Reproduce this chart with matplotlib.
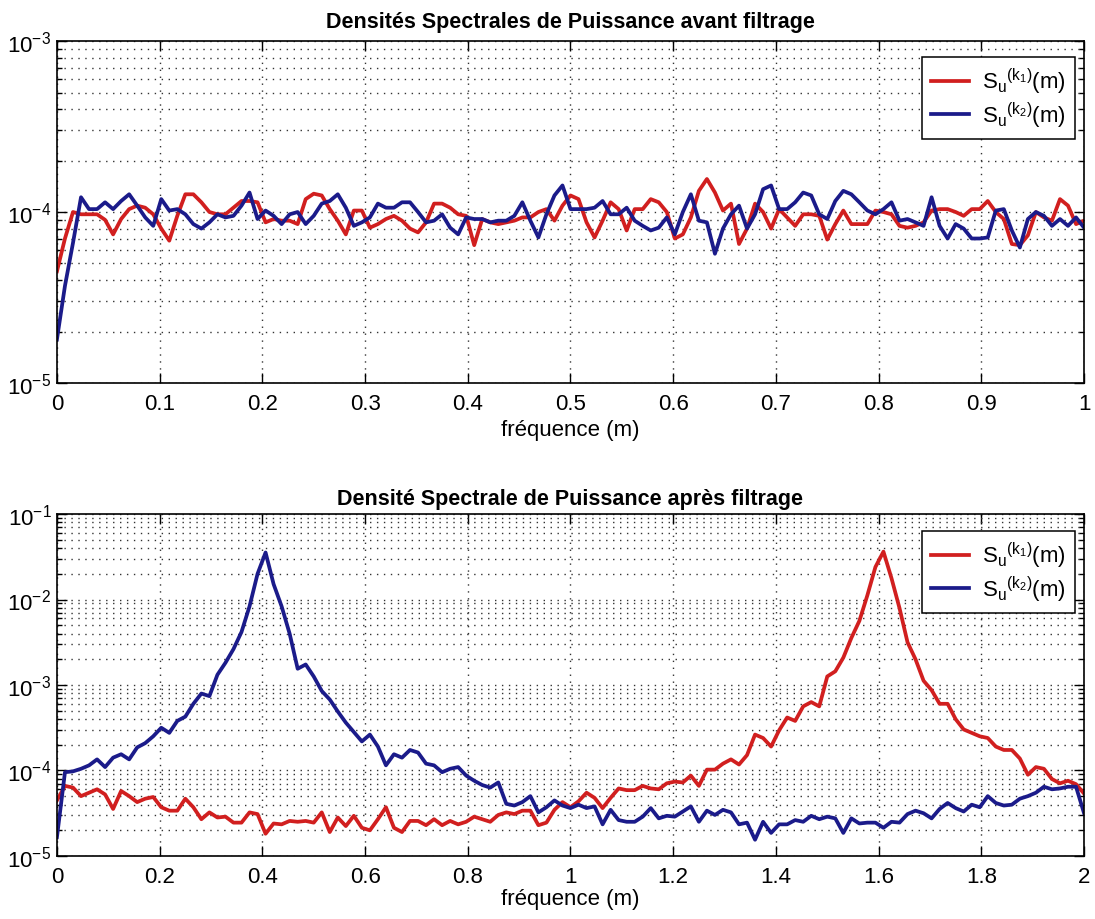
import matplotlib
matplotlib.use("Agg")
import matplotlib.pyplot as plt
import numpy as np
from matplotlib.ticker import LogLocator, FormatStrFormatter, NullFormatter

# Before filtering: PSD values in units of 1e-4, 129 bins on [0, 1]
red_before = [
    0.45, 0.70, 1.00, 0.97, 0.97, 0.97, 0.90, 0.74, 0.91, 1.04, 1.09, 1.06, 0.97,
    0.80, 0.68, 0.95, 1.27, 1.27, 1.14, 1.00, 0.97, 0.97, 1.06, 1.16, 1.16, 1.14,
    0.87, 0.91, 0.89, 0.89, 0.85, 1.19, 1.28, 1.25, 1.04, 0.89, 0.74, 1.02, 1.02,
    0.81, 0.85, 0.91, 0.95, 0.89, 0.80, 0.76, 0.87, 1.12, 1.12, 1.06, 0.97, 0.95,
    0.64, 0.91, 0.87, 0.85, 0.87, 0.89, 0.93, 0.93, 1.00, 1.04, 0.89, 1.09, 1.25,
    1.19, 0.87, 0.71, 0.89, 1.14, 1.04, 0.78, 1.04, 1.04, 1.19, 1.14, 1.00, 0.70,
    0.74, 0.93, 1.33, 1.56, 1.30, 1.02, 1.12, 0.65, 0.80, 1.12, 1.00, 0.80, 1.04,
    0.93, 0.83, 0.97, 0.97, 0.95, 0.69, 0.85, 1.02, 0.85, 0.85, 0.85, 1.02, 1.00,
    0.97, 0.83, 0.81, 0.83, 0.87, 1.02, 1.04, 1.04, 1.00, 0.95, 1.04, 1.04, 1.16,
    1.00, 0.91, 0.65, 0.64, 0.73, 1.00, 0.93, 0.89, 1.19, 1.09, 0.85, 0.89]
blue_before = [
    0.18, 0.37, 0.66, 1.22, 1.04, 1.04, 1.14, 1.04, 1.16, 1.27, 1.09, 0.93, 0.83,
    1.19, 1.02, 1.04, 0.97, 0.85, 0.80, 0.87, 0.97, 0.93, 0.95, 1.09, 1.30, 0.91,
    1.02, 0.95, 0.85, 0.97, 1.00, 0.85, 0.95, 1.12, 1.16, 1.27, 1.06, 0.83, 0.87,
    0.93, 1.12, 1.06, 1.06, 1.14, 1.14, 1.00, 0.87, 0.89, 0.97, 0.81, 0.74, 0.93,
    0.91, 0.91, 0.87, 0.89, 0.89, 0.95, 1.14, 0.89, 0.71, 0.97, 1.25, 1.43, 1.04,
    1.04, 1.04, 1.06, 1.16, 0.97, 0.97, 1.06, 0.89, 0.83, 0.78, 0.81, 0.93, 0.74,
    1.00, 1.27, 0.89, 0.87, 0.57, 0.80, 0.97, 1.09, 0.80, 0.97, 1.36, 1.43, 1.04,
    1.04, 1.14, 1.30, 1.25, 0.97, 0.91, 1.16, 1.33, 1.27, 1.14, 1.02, 0.97, 1.04,
    1.14, 0.89, 0.91, 0.87, 0.83, 1.22, 0.83, 0.70, 0.85, 0.80, 0.70, 0.70, 0.71,
    1.02, 1.04, 0.78, 0.62, 0.91, 1.00, 0.95, 0.83, 0.91, 0.83, 0.93, 0.81]

# After filtering: log10 of the PSD, 129 bins on [0, 2]
red_after_log = [
    -4.35, -4.18, -4.20, -4.30, -4.26, -4.22, -4.28, -4.45, -4.24, -4.30, -4.37,
    -4.33, -4.31, -4.43, -4.47, -4.47, -4.33, -4.43, -4.57, -4.49, -4.55, -4.54,
    -4.61, -4.61, -4.49, -4.51, -4.74, -4.62, -4.63, -4.59, -4.60, -4.59, -4.61,
    -4.49, -4.72, -4.55, -4.65, -4.53, -4.67, -4.70, -4.57, -4.43, -4.67, -4.72,
    -4.59, -4.59, -4.64, -4.57, -4.64, -4.59, -4.63, -4.60, -4.54, -4.57, -4.60,
    -4.52, -4.49, -4.51, -4.47, -4.47, -4.64, -4.61, -4.46, -4.37, -4.43, -4.36,
    -4.26, -4.32, -4.44, -4.32, -4.21, -4.23, -4.23, -4.18, -4.21, -4.22, -4.15,
    -4.13, -4.14, -4.06, -4.18, -3.99, -3.99, -3.92, -3.87, -3.93, -3.82, -3.58,
    -3.62, -3.72, -3.53, -3.38, -3.42, -3.25, -3.20, -3.25, -2.90, -2.84, -2.68,
    -2.45, -2.25, -1.95, -1.62, -1.44, -1.75, -2.10, -2.50, -2.70, -2.95, -3.06,
    -3.22, -3.22, -3.40, -3.52, -3.56, -3.60, -3.62, -3.72, -3.76, -3.76, -3.86,
    -4.05, -3.96, -3.98, -4.10, -4.15, -4.12, -4.16, -4.27]
blue_after_log = [
    -4.78, -4.02, -4.01, -3.98, -3.94, -3.87, -3.96, -3.85, -3.81, -3.87, -3.73,
    -3.68, -3.60, -3.50, -3.56, -3.42, -3.37, -3.22, -3.10, -3.13, -2.88, -2.74,
    -2.58, -2.38, -2.08, -1.70, -1.45, -1.82, -2.08, -2.40, -2.81, -2.76, -2.90,
    -3.07, -3.17, -3.31, -3.44, -3.55, -3.66, -3.58, -3.72, -3.94, -3.81, -3.85,
    -3.76, -3.79, -3.92, -3.94, -4.02, -3.98, -3.96, -4.06, -4.12, -4.17, -4.20,
    -4.14, -4.39, -4.41, -4.37, -4.30, -4.49, -4.43, -4.35, -4.41, -4.44, -4.40,
    -4.44, -4.42, -4.63, -4.46, -4.58, -4.60, -4.60, -4.54, -4.44, -4.56, -4.53,
    -4.54, -4.48, -4.42, -4.60, -4.47, -4.52, -4.46, -4.49, -4.63, -4.61, -4.81,
    -4.60, -4.73, -4.63, -4.63, -4.58, -4.60, -4.53, -4.57, -4.54, -4.56, -4.73,
    -4.56, -4.62, -4.61, -4.61, -4.67, -4.60, -4.61, -4.51, -4.47, -4.50, -4.56,
    -4.45, -4.38, -4.44, -4.48, -4.40, -4.43, -4.30, -4.38, -4.41, -4.40, -4.33,
    -4.30, -4.26, -4.19, -4.22, -4.21, -4.19, -4.19, -4.50]

titles = ["Densités Spectrales de Puissance avant filtrage",
          "Densité Spectrale de Puissance après filtrage"]
xlabel = "fréquence (m)"
labels = [r"S$_{\mathrm{u}}$$^{(\mathrm{k}_1)}$(m)",
          r"S$_{\mathrm{u}}$$^{(\mathrm{k}_2)}$(m)"]

RED = "#d11f1f"
BLUE = "#1b1b8a"

plt.rcParams["font.family"] = ["Liberation Sans", "DejaVu Sans"]
plt.rcParams["mathtext.fontset"] = "custom"
plt.rcParams["mathtext.rm"] = "Liberation Sans"
plt.rcParams["mathtext.it"] = "Liberation Sans:italic"


def style_axes(ax, xmax, xstep, ymin, ymax):
    ax.set_yscale("log")
    ax.set_xlim(0, xmax)
    ax.set_ylim(ymin, ymax)
    ax.set_xticks(np.arange(0, xmax + xstep / 2, xstep))
    ax.xaxis.set_major_formatter(FormatStrFormatter("%g"))
    ax.yaxis.set_major_locator(LogLocator(base=10, numticks=10))
    ax.yaxis.set_minor_locator(LogLocator(base=10, subs=np.arange(2, 10), numticks=10))
    ax.yaxis.set_minor_formatter(NullFormatter())
    ax.tick_params(which="both", direction="in", top=True, right=True,
                   labelsize=16, width=1.0)
    ax.tick_params(axis="x", which="major", pad=7)
    ax.tick_params(axis="y", which="major", pad=4)
    ax.tick_params(which="major", length=7)
    ax.tick_params(which="minor", length=3.5)
    ax.grid(True, which="major", axis="both", color="#333333",
            linestyle=(0, (1, 4)), linewidth=1.0)
    ax.grid(True, which="minor", axis="y", color="#333333",
            linestyle=(0, (1, 4)), linewidth=1.0)
    for s in ax.spines.values():
        s.set_linewidth(1.2)


fig = plt.figure(figsize=(10.95, 9.2), dpi=100)
ax1 = fig.add_axes([0.052, 0.5826, 0.938, 0.3717])
ax2 = fig.add_axes([0.052, 0.0685, 0.938, 0.3717])

leg_kw = dict(loc="upper right", borderaxespad=0, fancybox=False,
              edgecolor="black", framealpha=1, fontsize=16,
              handlelength=1.7, handletextpad=0.6, borderpad=0.4,
              labelspacing=0.15)

# top panel
f1 = np.linspace(0, 1, len(red_before))
ax1.plot(f1, np.array(red_before) * 1e-4, color=RED, lw=2.7, label=labels[0])
ax1.plot(f1, np.array(blue_before) * 1e-4, color=BLUE, lw=2.7, label=labels[1])
style_axes(ax1, 1, 0.1, 1e-5, 1e-3)
ax1.set_title(titles[0], fontsize=15.5, fontweight="bold", pad=10)
ax1.set_xlabel(xlabel, fontsize=16, labelpad=4)
leg = ax1.legend(bbox_to_anchor=(0.991, 0.953), **leg_kw)
leg.get_frame().set_linewidth(1.1)

# bottom panel
f2 = np.linspace(0, 2, len(red_after_log))
ax2.plot(f2, 10 ** np.array(red_after_log), color=RED, lw=2.7, label=labels[0])
ax2.plot(f2, 10 ** np.array(blue_after_log), color=BLUE, lw=2.7, label=labels[1])
style_axes(ax2, 2, 0.2, 1e-5, 1e-1)
ax2.set_title(titles[1], fontsize=15.5, fontweight="bold", pad=7)
ax2.set_xlabel(xlabel, fontsize=16, labelpad=1)
leg = ax2.legend(bbox_to_anchor=(0.991, 0.950), **leg_kw)
leg.get_frame().set_linewidth(1.1)

fig.savefig("out.png", dpi=100)
